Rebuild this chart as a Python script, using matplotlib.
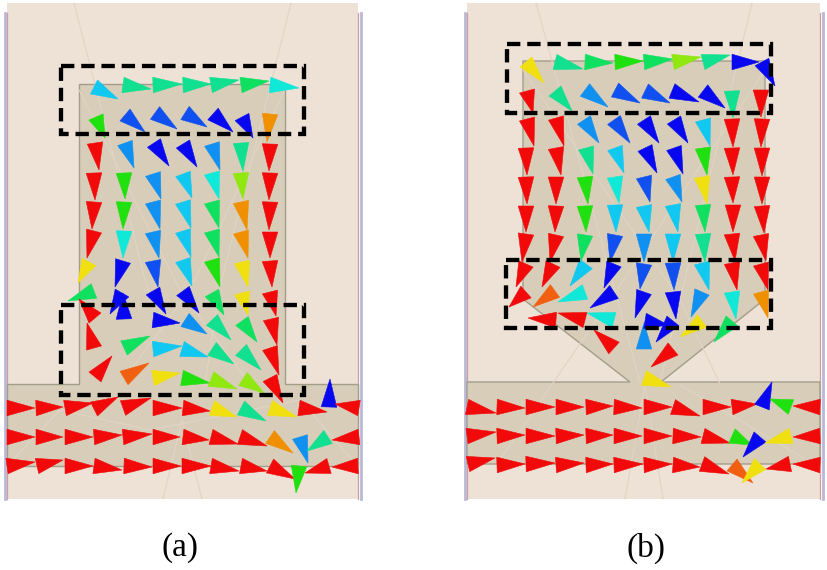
import matplotlib
matplotlib.use("Agg")
import matplotlib.pyplot as plt
from matplotlib.patches import Polygon, Rectangle

# barvy kuzelu podle velikosti pole
palette = {
    'r': '#f20a0a', 'R': '#f06010', 'o': '#f09000', 'y': '#f0e010', 'l': '#90e810',
    'g': '#20e010', 'G': '#10e060', 't': '#10e090', 'T': '#10e8d8', 'c': '#10c8f0',
    's': '#1090f0', 'B': '#1050f0', 'b': '#0808f0',
}

# kuzele: stred podstavy x, y, spicka x, y, barva
cones_a = [
    (94,87,118,99,'c'), (123,85,151,89,'t'), (153,85,182,84,'t'), (183,85,211,84,'t'),
    (211,85,239,80,'t'), (241,85,269,81,'G'), (270,85,299,88,'T'),
    (96,117,105,138,'g'), (125,115,145,132,'B'), (155,113,177,129,'B'), (185,113,207,127,'B'),
    (213,114,233,132,'b'), (242,117,253,138,'b'), (270,114,267,142,'o'),
    (95,143,99,170,'r'), (125,143,134,168,'s'), (154,143,169,166,'b'), (183,144,197,167,'b'),
    (212,144,220,170,'s'), (241,143,243,171,'t'), (270,144,269,171,'r'),
    (94,173,95,200,'r'), (124,173,125,199,'g'), (153,174,161,199,'s'), (183,174,192,198,'c'),
    (212,173,219,199,'T'), (241,173,243,199,'l'), (270,173,269,200,'r'),
    (94,202,92,229,'r'), (124,202,123,229,'g'), (153,202,160,229,'s'), (183,202,191,228,'c'),
    (212,202,219,228,'G'), (241,202,247,230,'o'), (270,202,269,230,'r'),
    (94,231,87,258,'r'), (124,231,123,258,'T'), (153,232,159,258,'s'), (183,231,191,257,'c'),
    (212,231,219,257,'G'), (241,232,248,258,'o'), (270,232,270,258,'r'),
    (89,262,78,283,'y'), (123,261,115,287,'b'), (153,261,158,287,'B'), (183,260,192,286,'c'),
    (212,260,220,287,'g'), (242,262,248,287,'y'), (270,261,272,287,'r'),
    (94,291,68,301,'G'), (122,293,110,314,'b'), (153,291,166,314,'b'), (183,291,199,313,'b'),
    (212,293,224,315,'G'), (242,293,248,315,'y'), (270,292,276,316,'r'),
    (95,318,79,299,'r'), (124,319,123,293,'b'), (153,320,180,323,'b'), (185,320,207,334,'s'),
    (212,320,231,340,'t'), (242,321,257,342,'G'), (271,319,277,345,'r'),
    (94,348,87,323,'r'), (124,348,150,336,'G'), (153,349,182,346,'c'), (182,349,208,357,'c'),
    (212,349,234,364,'t'), (241,350,261,370,'t'), (270,348,279,375,'r'),
    (95,377,112,356,'r'), (124,378,149,363,'R'), (153,378,180,373,'y'), (182,378,210,383,'g'),
    (211,379,237,389,'l'), (243,379,264,393,'l'), (270,378,283,403,'r'),
    (7,408,35,408,'r'), (36,408,63,407,'r'), (65,408,93,403,'r'), (94,409,118,397,'r'),
    (123,408,151,398,'r'), (153,408,182,408,'r'), (183,408,210,411,'r'), (212,408,237,417,'y'),
    (241,408,266,421,'t'), (270,408,297,417,'y'), (299,408,327,412,'r'), (329,407,330,379,'b'),
    (359,408,335,404,'r'),
    (7,437,35,437,'r'), (36,437,63,437,'r'), (65,437,93,437,'r'), (94,437,122,435,'r'),
    (123,437,152,434,'r'), (153,437,180,437,'r'), (183,437,209,440,'r'), (211,437,238,444,'r'),
    (240,437,267,446,'r'), (270,437,293,453,'o'), (300,437,308,463,'s'), (328,437,307,451,'t'),
    (359,437,332,440,'r'),
    (7,466,35,462,'r'), (37,466,63,460,'r'), (65,466,93,466,'r'), (94,466,122,470,'r'),
    (124,466,152,467,'r'), (153,466,181,466,'r'), (182,466,211,466,'r'), (211,466,239,471,'r'),
    (241,466,267,471,'r'), (270,466,295,479,'r'), (299,466,296,493,'g'), (329,466,305,473,'r'),
    (358,466,332,467,'r'),
]

cones_b = [
    (526,62,544,83,'y'), (555,62,583,69,'t'), (585,62,613,63,'G'), (615,62,643,61,'g'),
    (644,62,673,59,'G'), (673,62,701,57,'l'), (703,62,730,55,'t'), (732,62,759,62,'b'),
    (762,62,775,86,'b'),
    (527,91,533,113,'r'), (555,91,572,111,'t'), (585,90,608,107,'s'), (615,90,640,103,'B'),
    (645,91,670,103,'B'), (672,91,699,102,'b'), (703,91,725,108,'b'), (732,91,733,118,'t'),
    (761,90,761,117,'r'),
    (527,119,534,146,'r'), (556,118,564,146,'r'), (584,120,599,143,'s'), (614,120,630,143,'B'),
    (644,120,659,143,'b'), (674,120,688,143,'b'), (703,120,710,146,'c'), (732,119,733,147,'r'),
    (762,119,761,147,'r'),
    (526,148,527,175,'r'), (556,148,561,175,'r'), (586,148,593,174,'t'), (615,148,624,173,'c'),
    (645,148,657,173,'b'), (674,148,683,174,'b'), (703,148,707,175,'g'), (732,148,733,175,'r'),
    (762,148,762,176,'r'),
    (526,177,527,204,'r'), (556,177,556,204,'r'), (585,177,588,204,'g'), (615,177,619,203,'T'),
    (644,177,650,202,'B'), (673,177,682,202,'s'), (702,177,707,204,'y'), (732,177,733,203,'r'),
    (762,177,762,204,'r'),
    (526,206,526,232,'r'), (556,206,555,232,'r'), (585,206,586,232,'g'), (615,205,616,232,'c'),
    (644,206,649,232,'c'), (673,205,678,232,'c'), (703,205,705,232,'G'), (733,205,733,232,'r'),
    (762,206,764,233,'r'),
    (526,234,522,262,'r'), (556,235,550,262,'r'), (585,235,581,261,'G'), (615,235,610,262,'B'),
    (644,234,644,262,'s'), (673,234,673,262,'c'), (703,234,705,262,'t'), (732,234,735,261,'r'),
    (761,235,766,261,'r'),
    (526,264,516,287,'r'), (553,264,542,287,'r'), (586,264,570,286,'c'), (614,264,604,288,'b'),
    (644,264,640,289,'B'), (673,263,674,290,'B'), (702,263,709,290,'c'), (732,263,737,290,'r'),
    (761,264,768,290,'r'),
    (526,292,509,307,'r'), (555,291,533,307,'R'), (585,292,558,302,'T'), (614,292,590,308,'b'),
    (644,292,635,318,'b'), (673,292,676,319,'b'), (702,292,691,317,'s'), (732,292,736,319,'T'),
    (761,292,768,318,'o'),
    (556,320,528,318,'r'), (585,320,558,313,'r'), (614,320,587,313,'T'),
    (644,349,644,323,'s'), (645,321,668,325,'b'), (673,321,656,342,'b'), (702,321,680,337,'y'),
    (732,321,714,342,'G'), (614,348,594,330,'r'), (673,349,651,367,'r'), (644,378,671,387,'y'),
    (467,407,496,413,'r'), (497,407,525,408,'r'), (526,407,555,407,'r'), (556,407,584,407,'r'),
    (586,407,613,406,'r'), (614,407,642,408,'r'), (644,407,672,407,'r'), (673,407,700,416,'r'),
    (703,407,731,407,'r'), (732,407,757,404,'r'), (762,407,772,382,'b'), (791,407,770,399,'g'),
    (820,407,793,406,'r'),
    (467,436,496,432,'r'), (497,436,525,435,'r'), (526,436,555,436,'r'), (556,436,584,435,'r'),
    (586,436,613,435,'r'), (614,436,642,436,'r'), (644,436,672,436,'r'), (673,436,701,437,'r'),
    (703,436,730,443,'r'), (732,436,752,445,'g'), (760,437,743,457,'b'), (791,436,765,443,'y'),
    (820,436,793,437,'r'),
    (468,464,495,458,'r'), (497,465,525,464,'r'), (526,464,555,463,'r'), (556,465,584,463,'r'),
    (586,465,613,464,'r'), (614,465,643,464,'r'), (644,465,672,464,'r'), (673,465,700,467,'r'),
    (702,464,729,474,'r'), (732,465,753,483,'R'), (760,464,742,483,'y'), (790,464,766,469,'r'),
    (820,465,793,464,'r'),
]

# obrys patche
outline_a = [(79,84),(285,84),(285,384),(358,384),(358,466),(7,466),(7,384),(79,384)]
outline_b = [(523,61),(765,61),(765,299),(661,382),(820,382),(820,464),(467,464),(467,382),(630,382),(523,299)]

# slabe cary site
mesh_a = [[(74,3),(147,287),(163,334)], [(291,3),(220,287),(205,384)], [(79,90),(180,290),(250,384)],
          [(285,90),(190,290),(120,384)], [(7,466),(60,410),(150,430),(300,400)], [(163,499),(182,420),(202,499)],
          [(300,400),(358,466)]]
mesh_b = [[(536,3),(640,382)], [(752,3),(660,382)], [(523,70),(680,300),(720,384)],
          [(765,70),(610,300),(500,460)], [(625,499),(645,385),(663,499)], [(680,385),(810,462)]]

# ramecky: x, y, sirka, vyska
boxes = [(61,66,243,68), (61,305,243,90), (507,44,264,69), (506,260,265,68)]
labels = ['(a)', '(b)']
label_x = [180, 646]

fig = plt.figure(figsize=(8.27, 5.70), dpi=100)
ax = fig.add_axes([0, 0, 1, 1])
ax.set_xlim(0, 827)
ax.set_ylim(570, 0)
ax.axis('off')


def draw_panel(x0, x1, outline, mesh, cones):
    ax.add_patch(Rectangle((x0, 3), x1 - x0, 496, fc='#eee1d6', ec='none', zorder=1))
    ax.plot([x0 - 2.5, x0 - 2.5], [13, 499], color='#b9b9d9', lw=2, zorder=2)
    ax.plot([x0, x0], [13, 499], color='#cf9f9f', lw=0.9, zorder=2)
    ax.plot([x1 + 2.5, x1 + 2.5], [13, 499], color='#b9b9d9', lw=2, zorder=2)
    ax.plot([x1, x1], [13, 499], color='#cf9f9f', lw=0.9, zorder=2)
    ax.add_patch(Polygon(outline, closed=True, fc='#d7cdb8', ec='#a39d8b', lw=1.0, zorder=2))
    for line in mesh:
        ax.plot([p[0] for p in line], [p[1] for p in line], color='#e0d5c4', lw=0.8, zorder=3)
    for bx, by, tx, ty, c in cones:
        dx, dy = tx - bx, ty - by
        n = (dx ** 2 + dy ** 2) ** 0.5
        wx, wy = -dy / n * 7.8, dx / n * 7.8
        ax.add_patch(Polygon([(bx + wx, by + wy), (bx - wx, by - wy), (tx, ty)], closed=True,
                             fc=palette[c], ec=palette[c], lw=0.4, zorder=4))


draw_panel(7, 358, outline_a, mesh_a, cones_a)
draw_panel(467, 820, outline_b, mesh_b, cones_b)

for x, y, w, h in boxes:
    ax.add_patch(Rectangle((x, y), w, h, fill=False, ec='black', lw=3.1,
                           ls=(0, (3.1, 1.6)), zorder=6))

for s, x in zip(labels, label_x):
    ax.text(x, 548, s, family='Liberation Serif', fontsize=24, ha='center', va='center', color='black')

fig.savefig('out.png', dpi=100)
plt.close(fig)
